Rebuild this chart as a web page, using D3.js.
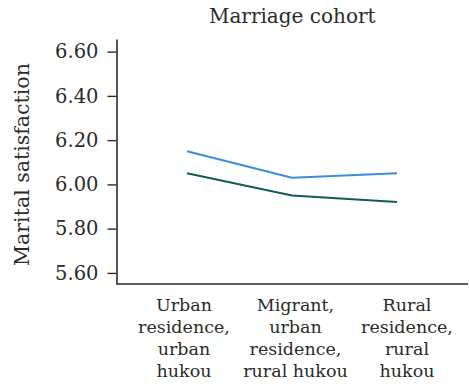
<!DOCTYPE html>
<html>
<head>
<meta charset="utf-8">
<script src="https://cdn.jsdelivr.net/npm/d3@7"></script>
<style>
  html, body { margin: 0; padding: 0; background: #fff; }
  svg { display: block; }
  text { font-family: "DejaVu Serif", serif; fill: #2b2b2b; }
</style>
</head>
<body>
<div id="chart"></div>
<script>
// Residence / hukou groups on the x axis
const categories = [
  ["Urban", "residence,", "urban", "hukou"],
  ["Migrant,", "urban", "residence,", "rural hukou"],
  ["Rural", "residence,", "rural", "hukou"]
];
const categoryKeys = ["urbanUrban", "migrant", "ruralRural"];

// Mean marital satisfaction per group for the two lines
const seriesBlue = [6.15, 6.03, 6.05];
const seriesGreen = [6.05, 5.95, 5.92];

const yTicks = [5.60, 5.80, 6.00, 6.20, 6.40, 6.60];

const W = 469, H = 384;
const plot = { left: 116.5, right: 468, top: 39, bottom: 284 };

const svg = d3.select("#chart").append("svg")
  .attr("width", W).attr("height", H);

const y = d3.scaleLinear()
  .domain([5.55, 6.657])
  .range([plot.bottom, plot.top]);

// point positions for the line vertices and for the group labels
const xLine = d3.scalePoint().domain(categoryKeys).range([187, 397]);
const xLabel = d3.scalePoint().domain(categoryKeys).range([184, 407]);

// y axis
const yAxis = d3.axisLeft(y)
  .tickValues(yTicks)
  .tickFormat(d3.format(".2f"))
  .tickSize(9)
  .tickPadding(9)
  .tickSizeOuter(0);

const gy = svg.append("g")
  .attr("transform", `translate(${plot.left},0)`)
  .call(yAxis);
gy.select(".domain").attr("stroke", "#2b2b2b").attr("stroke-width", 1.6);
gy.selectAll(".tick line").attr("stroke", "#2b2b2b").attr("stroke-width", 1.4);
gy.selectAll(".tick text")
  .attr("font-family", "DejaVu Serif, serif")
  .attr("font-size", 19.5)
  .attr("fill", "#2b2b2b");

// x axis baseline (no ticks)
svg.append("line")
  .attr("x1", plot.left).attr("x2", plot.right)
  .attr("y1", plot.bottom).attr("y2", plot.bottom)
  .attr("stroke", "#2b2b2b").attr("stroke-width", 1.6);

// category labels
const lineH = 22;
categories.forEach((lines, i) => {
  const t = svg.append("text")
    .attr("text-anchor", "middle")
    .attr("font-size", 17.5)
    .attr("x", xLabel(categoryKeys[i]))
    .attr("y", 311);
  lines.forEach((ln, j) => {
    t.append("tspan")
      .attr("x", xLabel(categoryKeys[i]))
      .attr("dy", j === 0 ? 0 : lineH)
      .text(ln);
  });
});

// lines
const line = d3.line()
  .x((d, i) => xLine(categoryKeys[i]))
  .y(d => y(d));

svg.append("path")
  .datum(seriesBlue)
  .attr("d", line)
  .attr("fill", "none")
  .attr("stroke", "#3a8ed8")
  .attr("stroke-width", 2);

svg.append("path")
  .datum(seriesGreen)
  .attr("d", line)
  .attr("fill", "none")
  .attr("stroke", "#0d5f57")
  .attr("stroke-width", 2);

// title
svg.append("text")
  .attr("x", (plot.left + plot.right) / 2)
  .attr("y", 23)
  .attr("text-anchor", "middle")
  .attr("font-size", 20)
  .text("Marriage cohort");

// y axis title
svg.append("text")
  .attr("transform", `translate(29,${(plot.top + plot.bottom) / 2 + 3}) rotate(-90)`)
  .attr("text-anchor", "middle")
  .attr("font-size", 20.5)
  .text("Marital satisfaction");
</script>
</body>
</html>
